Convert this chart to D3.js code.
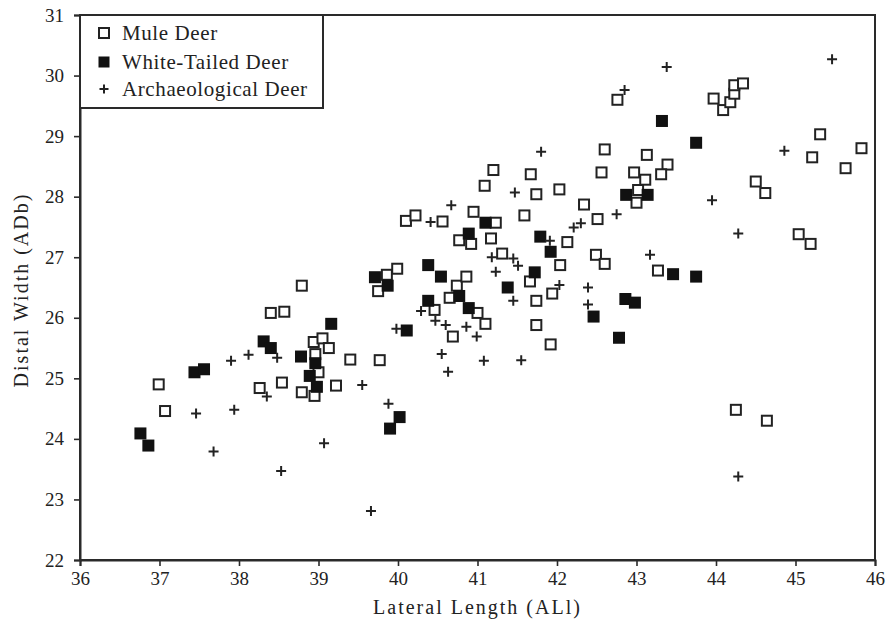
<!DOCTYPE html>
<html>
<head>
<meta charset="utf-8">
<script src="https://cdn.jsdelivr.net/npm/d3@7"></script>
<style>
  html, body { margin: 0; padding: 0; background: #fff; }
  svg { display: block; }
  text { font-family: "Liberation Serif", "DejaVu Serif", serif; fill: #222; }
</style>
</head>
<body>
<svg id="chart" width="886" height="624"></svg>
<script>
const xTicks = [36, 37, 38, 39, 40, 41, 42, 43, 44, 45, 46];
const yTicks = [22, 23, 24, 25, 26, 27, 28, 29, 30, 31];
const seriesNames = ["Mule Deer", "White-Tailed Deer", "Archaeological Deer"];

const muleDeer = [
  [38.79,26.53],[38.40,26.08],[38.57,26.10],[38.94,25.60],[39.05,25.66],[39.13,25.50],
  [38.96,25.40],[39.40,25.31],[39.00,25.10],[39.22,24.88],[38.79,24.77],[38.95,24.71],
  [38.54,24.93],[38.26,24.84],[36.99,24.90],[37.07,24.46],[41.20,28.44],[41.67,28.37],
  [42.56,28.40],[41.09,28.18],[41.74,28.04],[42.03,28.12],[42.34,27.87],[42.51,27.63],
  [40.95,27.75],[41.59,27.69],[40.10,27.60],[40.22,27.69],[40.56,27.59],[41.23,27.57],
  [40.77,27.28],[40.92,27.22],[41.17,27.31],[42.13,27.25],[42.49,27.04],[42.60,26.89],
  [41.31,27.06],[42.04,26.87],[41.66,26.60],[41.94,26.40],[41.74,26.28],[41.74,25.88],
  [41.92,25.56],[40.69,25.69],[41.10,25.90],[41.00,26.08],[40.46,26.13],[40.65,26.33],
  [40.74,26.53],[40.86,26.68],[39.86,26.71],[39.99,26.81],[39.75,26.44],[39.77,25.30],
  [42.76,29.60],[43.97,29.62],[44.09,29.43],[44.18,29.56],[44.23,29.70],[44.23,29.84],
  [44.34,29.87],[45.31,29.03],[45.83,28.80],[45.21,28.65],[45.63,28.47],[42.60,28.78],
  [43.13,28.69],[43.39,28.53],[43.31,28.37],[42.97,28.40],[43.11,28.28],[43.02,28.11],
  [43.00,27.90],[44.50,28.25],[44.62,28.06],[45.04,27.38],[45.19,27.22],[43.27,26.78],
  [44.25,24.48],[44.64,24.30]
];

const whiteTailedDeer = [
  [39.16,25.90],[38.31,25.61],[38.40,25.50],[38.78,25.36],[38.96,25.25],[38.89,25.04],
  [38.98,24.86],[37.44,25.10],[37.56,25.15],[36.76,24.09],[36.86,23.89],[40.02,24.36],
  [39.90,24.17],[41.10,27.57],[40.89,27.39],[41.79,27.34],[41.92,27.09],[41.72,26.75],
  [42.46,26.02],[42.78,25.67],[41.38,26.50],[40.89,26.16],[40.38,26.28],[40.77,26.36],
  [40.54,26.68],[40.38,26.87],[39.71,26.67],[39.87,26.53],[40.11,25.79],[43.32,29.25],
  [43.75,28.89],[42.87,28.03],[43.14,28.03],[43.46,26.72],[43.75,26.68],[42.86,26.31],
  [42.98,26.25]
];

const archaeologicalDeer = [
  [38.48,25.34],[37.90,25.29],[38.12,25.39],[38.35,24.70],[37.46,24.42],[37.94,24.48],
  [37.68,23.79],[39.07,23.93],[39.55,24.89],[39.88,24.58],[38.53,23.47],[39.66,22.81],
  [41.47,28.07],[42.21,27.49],[42.30,27.56],[42.75,27.71],[40.67,27.86],[40.41,27.58],
  [41.91,27.27],[41.18,27.00],[41.45,26.98],[41.51,26.86],[41.23,26.76],[42.03,26.54],
  [42.39,26.50],[42.39,26.22],[41.45,26.28],[41.55,25.30],[41.08,25.29],[40.99,25.69],
  [40.86,25.85],[40.60,25.88],[40.47,25.95],[40.29,26.11],[39.98,25.82],[40.55,25.40],
  [40.63,25.11],[43.38,30.14],[45.46,30.27],[42.85,29.76],[44.86,28.76],[43.95,27.94],
  [44.28,27.39],[43.17,27.04],[44.28,23.38],[41.80,28.74]
];

(function () {
const svg = d3.select("#chart");
const mLeft = 80, mRight = 875, mTop = 15, mBottom = 560;
const x = d3.scaleLinear().domain([36, 46]).range([mLeft, mRight]);
const y = d3.scaleLinear().domain([22, 31]).range([mBottom, mTop]);
const axisColor = "#2a2a2a";

// frame
svg.append("rect")
  .attr("x", mLeft).attr("y", mTop)
  .attr("width", mRight - mLeft).attr("height", mBottom - mTop)
  .attr("fill", "none").attr("stroke", axisColor).attr("stroke-width", 2);

// axes
const xAxis = svg.append("g").attr("transform", `translate(0,${mBottom})`)
  .call(d3.axisBottom(x).tickValues(xTicks).tickFormat(d3.format("d")).tickSize(6).tickPadding(6));
const yAxis = svg.append("g").attr("transform", `translate(${mLeft},0)`)
  .call(d3.axisLeft(y).tickValues(yTicks).tickFormat(d3.format("d")).tickSize(6).tickPadding(10));
[xAxis, yAxis].forEach(g => {
  g.attr("font-family", null).attr("font-size", null);
  g.select(".domain").attr("stroke", axisColor).attr("stroke-width", 2);
  g.selectAll(".tick line").attr("stroke", axisColor).attr("stroke-width", 1.6);
  g.selectAll(".tick text")
    .style("font-size", "19px").attr("fill", "#222");
});

// axis titles
svg.append("text")
  .attr("x", (mLeft + mRight) / 2).attr("y", 614)
  .attr("text-anchor", "middle").style("font-size", "20px")
  .attr("letter-spacing", 2)
  .text("Lateral Length (ALl)");
svg.append("text")
  .attr("transform", `translate(28,290) rotate(-90)`)
  .attr("text-anchor", "middle").style("font-size", "20px")
  .attr("letter-spacing", 2)
  .text("Distal Width (ADb)");

// markers
const plot = svg.append("g");
plot.selectAll("rect.mule").data(muleDeer).join("rect")
  .attr("class", "mule")
  .attr("x", d => x(d[0]) - 5).attr("y", d => y(d[1]) - 5)
  .attr("width", 10).attr("height", 10)
  .attr("fill", "#fff").attr("stroke", "#222").attr("stroke-width", 2);
plot.selectAll("rect.wt").data(whiteTailedDeer).join("rect")
  .attr("class", "wt")
  .attr("x", d => x(d[0]) - 6).attr("y", d => y(d[1]) - 6)
  .attr("width", 12).attr("height", 12)
  .attr("fill", "#111");
plot.selectAll("path.arch").data(archaeologicalDeer).join("path")
  .attr("class", "arch")
  .attr("d", d => {
    const cx = x(d[0]), cy = y(d[1]), r = 5;
    return `M${cx - r},${cy}H${cx + r}M${cx},${cy - r}V${cy + r}`;
  })
  .attr("stroke", "#222").attr("stroke-width", 2).attr("fill", "none");

// legend
const lg = svg.append("g");
lg.append("rect")
  .attr("x", mLeft).attr("y", mTop).attr("width", 243).attr("height", 93)
  .attr("fill", "#fff").attr("stroke", axisColor).attr("stroke-width", 2);
const ly = [33, 62, 89];
seriesNames.forEach((name, i) => {
  const cx = 104, cy = ly[i];
  if (i === 0) {
    lg.append("rect").attr("x", cx - 5).attr("y", cy - 5).attr("width", 10).attr("height", 10)
      .attr("fill", "#fff").attr("stroke", "#222").attr("stroke-width", 2);
  } else if (i === 1) {
    lg.append("rect").attr("x", cx - 5.5).attr("y", cy - 5.5).attr("width", 11).attr("height", 11)
      .attr("fill", "#111");
  } else {
    lg.append("path").attr("d", `M${cx - 4.5},${cy}H${cx + 4.5}M${cx},${cy - 4.5}V${cy + 4.5}`)
      .attr("stroke", "#222").attr("stroke-width", 2);
  }
  lg.append("text").attr("x", 122).attr("y", cy + 7)
    .style("font-size", "21px").attr("letter-spacing", 0.6).text(name);
});
})();
</script>
</body>
</html>
